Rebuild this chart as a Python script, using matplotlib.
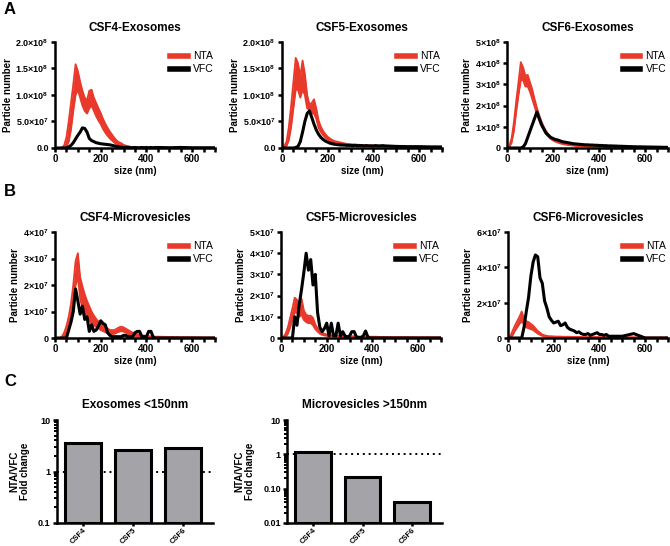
import matplotlib
matplotlib.use('Agg')
import matplotlib.pyplot as plt
from matplotlib.lines import Line2D
from matplotlib.ticker import MultipleLocator, LogLocator, NullFormatter

plt.rcParams['font.family'] = ['Liberation Sans', 'DejaVu Sans']
plt.rcParams['font.weight'] = 'bold'
plt.rcParams['mathtext.fontset'] = 'custom'
for key in ['rm', 'it', 'bf', 'sf']:
    plt.rcParams['mathtext.' + key] = 'Liberation Sans:bold'
plt.rcParams['axes.linewidth'] = 1.8

RED = '#e8392b'
GRAY = '#a4a4a8'

# particle size grid (nm)
size_nm = [0, 10, 20, 30, 40, 50, 60, 70, 80, 90,
           100, 110, 120, 130, 140, 150, 160, 170, 180, 190,
           200, 210, 220, 230, 240, 250, 260, 270, 280, 290,
           300, 310, 320, 330, 340, 350, 360, 370, 380, 390,
           400, 410, 420, 430, 440, 450, 500, 550, 600, 650, 700]

# all particle numbers in units of 1e7
# --- CSF4 exosomes ---
csf4_exo_nta_hi = [0, 0, 0, 0.1, 0.5, 2, 5, 8.5, 12, 15.8,
                   14.5, 12.5, 10.8, 9.5, 9, 10.8, 11, 9.5, 8.5, 7.5,
                   6.6, 5.5, 4.6, 3.8, 3.1, 2.5, 1.9, 1.4, 1.1, 0.9,
                   0.6, 0.45, 0.35, 0.25, 0.2, 0.15, 0.12, 0.1, 0.1, 0.08,
                   0.08, 0.07, 0.07, 0.06, 0.06, 0.06, 0.05, 0.04, 0.03, 0.03, 0.02]
csf4_exo_nta_lo = [0, 0, 0, 0, 0, 0.3, 1.2, 3.5, 7, 10,
                   11, 9.5, 8, 7, 6.5, 7.5, 8, 7, 6, 5.2,
                   4.5, 3.6, 2.9, 2.3, 1.8, 1.4, 1.0, 0.7, 0.5, 0.35,
                   0.25, 0.15, 0.1, 0.08, 0.06, 0.05, 0.04, 0.03, 0.03, 0.02,
                   0.02, 0.02, 0.02, 0.02, 0.02, 0.02, 0.01, 0.01, 0.01, 0.01, 0]
csf4_exo_vfc = [0, 0, 0, 0, 0, 0.05, 0.2, 0.5, 1.0, 1.7,
                2.4, 3.0, 3.8, 3.7, 3.0, 1.8, 1.4, 1.2, 1.0, 0.9,
                0.8, 0.75, 0.7, 0.65, 0.6, 0.5, 0.4, 0.3, 0.2, 0.15,
                0.1, 0.1, 0.1, 0.05, 0.05, 0.1, 0.05, 0.05, 0.1, 0.05,
                0.1, 0.05, 0.1, 0.05, 0.1, 0.1, 0.05, 0.1, 0.05, 0.05, 0.05]

# --- CSF5 exosomes ---
csf5_exo_nta_hi = [0.1, 0.4, 1.2, 4, 8, 12.5, 17, 16, 13.5, 16.5,
                   14, 10, 8.2, 8.5, 9.2, 7.5, 5.2, 4, 3.2, 2.6,
                   2.1, 1.8, 1.5, 1.3, 1.2, 1.1, 1.0, 0.9, 0.8, 0.75,
                   0.7, 0.68, 0.65, 0.62, 0.6, 0.58, 0.55, 0.52, 0.5, 0.48,
                   0.46, 0.45, 0.44, 0.42, 0.41, 0.4, 0.35, 0.3, 0.28, 0.25, 0.22]
csf5_exo_nta_lo = [0, 0.1, 0.4, 1.5, 4, 7.5, 11, 11, 9.5, 11,
                   10, 7.5, 7.2, 6.5, 6.5, 5.5, 3.8, 3, 2.4, 1.9,
                   1.6, 1.35, 1.15, 1.0, 0.9, 0.85, 0.78, 0.7, 0.62, 0.58,
                   0.54, 0.52, 0.5, 0.48, 0.46, 0.44, 0.42, 0.4, 0.38, 0.36,
                   0.35, 0.34, 0.33, 0.32, 0.31, 0.3, 0.26, 0.22, 0.2, 0.18, 0.16]
csf5_exo_vfc = [0, 0, 0, 0, 0, 0, 0.1, 0.3, 1.2, 3,
                5, 6.5, 7, 5.8, 4.5, 3.4, 2.6, 2, 1.6, 1.3,
                1.1, 0.9, 0.8, 0.7, 0.65, 0.6, 0.55, 0.55, 0.5, 0.5,
                0.5, 0.45, 0.5, 0.45, 0.45, 0.45, 0.4, 0.45, 0.4, 0.4,
                0.4, 0.45, 0.4, 0.4, 0.45, 0.4, 0.3, 0.25, 0.25, 0.2, 0.2]

# --- CSF6 exosomes ---
csf6_exo_nta_hi = [0, 1, 4.5, 12, 22, 31, 40.5, 38, 34, 34.5,
                   31, 27.5, 23, 19, 15.5, 12.5, 10, 8, 6.5, 5.3,
                   4.4, 3.7, 3.2, 2.8, 2.4, 2.1, 1.9, 1.7, 1.5, 1.4,
                   1.3, 1.2, 1.15, 1.1, 1.05, 1.0, 0.95, 0.9, 0.88, 0.85,
                   0.82, 0.8, 0.78, 0.75, 0.72, 0.7, 0.6, 0.5, 0.42, 0.36, 0.3]
csf6_exo_nta_lo = [0, 0.5, 2.5, 8, 17, 25, 32, 32, 29, 29,
                   26.5, 23, 19.5, 16, 13, 10.5, 8.3, 6.6, 5.3, 4.3,
                   3.6, 3.0, 2.6, 2.2, 1.9, 1.7, 1.5, 1.35, 1.2, 1.1,
                   1.0, 0.95, 0.9, 0.85, 0.8, 0.78, 0.75, 0.72, 0.7, 0.68,
                   0.65, 0.63, 0.62, 0.6, 0.58, 0.55, 0.48, 0.4, 0.34, 0.28, 0.24]
csf6_exo_vfc = [0, 0, 0, 0, 0, 0, 0, 0.5, 2, 5,
                8, 11, 14, 17, 14, 11, 9, 7, 6, 5,
                4.5, 4, 3.8, 3.4, 3.0, 2.8, 2.6, 2.4, 2.2, 2.0,
                1.9, 1.8, 1.7, 1.6, 1.5, 1.5, 1.4, 1.4, 1.3, 1.3,
                1.2, 1.2, 1.1, 1.1, 1.0, 1.0, 0.8, 0.6, 0.5, 0.4, 0.3]

# --- CSF4 microvesicles ---
csf4_mv_nta_hi = [0, 0, 0, 0.05, 0.2, 0.45, 0.8, 1.3, 2.0, 2.9,
                  3.2, 2.3, 1.95, 1.65, 1.4, 1.2, 1.0, 0.85, 0.72, 0.62,
                  0.55, 0.48, 0.42, 0.36, 0.3, 0.3, 0.3, 0.35, 0.4, 0.43,
                  0.4, 0.35, 0.3, 0.25, 0.2, 0.18, 0.15, 0.12, 0.1, 0.09,
                  0.08, 0.07, 0.06, 0.06, 0.05, 0.05, 0.04, 0.03, 0.03, 0.02, 0.02]
csf4_mv_nta_lo = [0, 0, 0, 0, 0.05, 0.15, 0.35, 0.7, 1.2, 2.0,
                  2.3, 1.5, 1.1, 0.9, 0.75, 0.65, 0.55, 0.48, 0.42, 0.36,
                  0.3, 0.26, 0.22, 0.18, 0.15, 0.15, 0.16, 0.2, 0.24, 0.26,
                  0.24, 0.2, 0.16, 0.12, 0.1, 0.08, 0.06, 0.05, 0.04, 0.04,
                  0.03, 0.03, 0.03, 0.02, 0.02, 0.02, 0.02, 0.01, 0.01, 0.01, 0.01]
csf4_mv_vfc = [0, 0, 0, 0, 0, 0, 0.3, 0.6, 1.0, 1.85,
               1.4, 0.9, 1.2, 0.7, 0.8, 0.25, 0.5, 0.25, 0.3, 0.45,
               0.65, 0.55, 0.5, 0.2, 0.1, 0.05, 0.05, 0.05, 0.05, 0.05,
               0.1, 0.1, 0.05, 0.05, 0.05, 0.2, 0.25, 0.25, 0.05, 0.05,
               0.05, 0.25, 0.25, 0.02, 0, 0, 0, 0, 0, 0, 0]

# --- CSF5 microvesicles ---
csf5_mv_nta_hi = [0, 0.05, 0.2, 0.5, 0.95, 1.4, 1.9, 1.8, 1.6, 1.85,
                  1.3, 1.1, 1.05, 1.05, 0.95, 0.65, 0.45, 0.32, 0.25, 0.2,
                  0.17, 0.15, 0.14, 0.13, 0.12, 0.11, 0.1, 0.1, 0.09, 0.09,
                  0.08, 0.08, 0.08, 0.07, 0.07, 0.07, 0.07, 0.07, 0.06, 0.06,
                  0.06, 0.06, 0.06, 0.05, 0.05, 0.05, 0.04, 0.04, 0.03, 0.03, 0.03]
csf5_mv_nta_lo = [0, 0, 0.05, 0.2, 0.5, 0.9, 1.2, 1.2, 1.0, 1.1,
                  0.85, 0.75, 0.7, 0.7, 0.6, 0.42, 0.3, 0.2, 0.15, 0.12,
                  0.1, 0.09, 0.08, 0.08, 0.07, 0.07, 0.06, 0.06, 0.05, 0.05,
                  0.05, 0.05, 0.04, 0.04, 0.04, 0.04, 0.04, 0.04, 0.03, 0.03,
                  0.03, 0.03, 0.03, 0.03, 0.03, 0.03, 0.02, 0.02, 0.02, 0.02, 0.02]
csf5_mv_vfc = [0, 0, 0, 0, 0, 0, 1.0, 0.6, 1.6, 2.3,
               3.1, 4.0, 3.2, 3.7, 2.5, 3.0, 1.2, 0.5, 0.3, 0.45,
               0.7, 0.1, 0.7, 0.1, 0.1, 0.7, 0.1, 0.3, 0.1, 0.05,
               0.1, 0.3, 0.3, 0.05, 0.02, 0.02, 0.1, 0.33, 0.05, 0,
               0, 0, 0, 0, 0, 0, 0, 0, 0, 0, 0]

# --- CSF6 microvesicles ---
csf6_mv_nta_hi = [0, 0.1, 0.4, 0.7, 0.95, 1.2, 1.5, 1.1, 0.95, 0.9,
                  0.8, 0.7, 0.55, 0.4, 0.3, 0.2, 0.15, 0.12, 0.1, 0.1,
                  0.09, 0.08, 0.08, 0.08, 0.07, 0.07, 0.07, 0.07, 0.06, 0.06,
                  0.06, 0.06, 0.06, 0.05, 0.05, 0.05, 0.05, 0.05, 0.05, 0.05,
                  0.05, 0.05, 0.05, 0.05, 0.05, 0.05, 0.04, 0.04, 0.03, 0.03, 0.03]
csf6_mv_nta_lo = [0, 0.02, 0.15, 0.4, 0.6, 0.8, 0.95, 0.75, 0.6, 0.55,
                  0.5, 0.45, 0.35, 0.25, 0.18, 0.12, 0.09, 0.07, 0.06, 0.05,
                  0.05, 0.05, 0.04, 0.04, 0.04, 0.04, 0.04, 0.04, 0.03, 0.03,
                  0.03, 0.03, 0.03, 0.03, 0.03, 0.03, 0.03, 0.03, 0.03, 0.03,
                  0.03, 0.03, 0.03, 0.03, 0.03, 0.03, 0.02, 0.02, 0.02, 0.02, 0.02]
csf6_mv_vfc = [0, 0, 0, 0, 0, 0, 0, 0.6, 1.5, 2.3,
               3.5, 4.3, 4.7, 4.6, 3.4, 3.1, 2.1, 1.7, 1.2, 1.0,
               0.85, 0.9, 0.95, 0.7, 0.75, 0.85, 0.6, 0.5, 0.45, 0.4,
               0.3, 0.35, 0.25, 0.2, 0.2, 0.25, 0.15, 0.2, 0.25, 0.3,
               0.2, 0.2, 0.15, 0.2, 0.1, 0.1, 0.1, 0.25, 0, 0, 0]

# y tick positions (1e7 units) and labels
exo45_yticks = [0, 5, 10, 15, 20]
exo45_ylabels = ['0.0', r'$5.0{\times}10^7$', r'$1.0{\times}10^8$', r'$1.5{\times}10^8$', r'$2.0{\times}10^8$']
exo6_yticks = [0, 10, 20, 30, 40, 50]
exo6_ylabels = ['0', r'$1{\times}10^8$', r'$2{\times}10^8$', r'$3{\times}10^8$', r'$4{\times}10^8$', r'$5{\times}10^8$']
mv4_yticks = [0, 1, 2, 3, 4]
mv4_ylabels = ['0', r'$1{\times}10^7$', r'$2{\times}10^7$', r'$3{\times}10^7$', r'$4{\times}10^7$']
mv5_yticks = [0, 1, 2, 3, 4, 5]
mv5_ylabels = ['0', r'$1{\times}10^7$', r'$2{\times}10^7$', r'$3{\times}10^7$', r'$4{\times}10^7$', r'$5{\times}10^7$']
mv6_yticks = [0, 2, 4, 6]
mv6_ylabels = ['0', r'$2{\times}10^7$', r'$4{\times}10^7$', r'$6{\times}10^7$']

# panel C: NTA/VFC fold change
samples = ['CSF4', 'CSF5', 'CSF6']
exo_fold = [3.6, 2.6, 2.8]
mv_fold = [1.2, 0.22, 0.041]

W, H = 670, 546
fig = plt.figure(figsize=(W / 100, H / 100), dpi=100)


def px_rect(left, top, width, height):
    return [left / W, 1 - (top + height) / H, width / W, height / H]


def style_axes(ax):
    for s in ['top', 'right']:
        ax.spines[s].set_visible(False)
    ax.tick_params(which='both', direction='out', width=1.8, length=3,
                   labelsize=7, pad=1.5)


def dist_panel(rect, title, hi, lo, vfc, yticks, ylabels):
    ax = fig.add_axes(rect)
    ax.fill_between(size_nm, lo, hi, color=RED, lw=0, zorder=2)
    ax.plot(size_nm, hi, color=RED, lw=1.3, zorder=2)
    ax.plot(size_nm, lo, color=RED, lw=1.3, zorder=2)
    ax.plot(size_nm, vfc, color='black', lw=2.2, zorder=3)
    ax.set_xlim(0, 700)
    ax.set_ylim(0, yticks[-1])
    ax.set_xticks([0, 200, 400, 600])
    ax.xaxis.set_minor_locator(MultipleLocator(50))
    ax.set_yticks(yticks)
    ax.set_yticklabels(ylabels)
    style_axes(ax)
    ax.tick_params(axis='y', labelsize=6.5)
    ax.set_title(title, fontsize=8.5, fontweight='bold', pad=8)
    ax.set_xlabel('size (nm)', fontsize=7, fontweight='bold', labelpad=1.5)
    ax.set_ylabel('Particle number', fontsize=7, fontweight='bold', labelpad=2)
    handles = [Line2D([], [], color=RED, lw=4), Line2D([], [], color='black', lw=4)]
    ax.legend(handles, ['NTA', 'VFC'], loc='upper left', bbox_to_anchor=(0.66, 1.0),
              frameon=False, prop={'size': 7.5, 'weight': 'normal'},
              handlelength=1.7, handletextpad=0.5, labelspacing=0.3)
    return ax


def ratio_panel(rect, title, vals, ymin, yticks, ylabels):
    ax = fig.add_axes(rect)
    ax.set_yscale('log')
    x = list(range(len(samples)))
    ax.axhline(1, color='black', ls=(0, (1, 2)), lw=1.4, zorder=1)
    ax.bar(x, [v - ymin for v in vals], bottom=ymin, width=0.72, color=GRAY,
           edgecolor='black', lw=2.2, zorder=2)
    ax.set_ylim(ymin, 10)
    ax.set_xlim(-0.52, 2.6)
    ax.set_yticks(yticks)
    ax.set_yticklabels(ylabels)
    ax.yaxis.set_minor_locator(LogLocator(base=10, subs=range(2, 10)))
    ax.yaxis.set_minor_formatter(NullFormatter())
    ax.set_xticks(x)
    ax.set_xticklabels(samples, rotation=45, ha='right', rotation_mode='anchor')
    style_axes(ax)
    ax.tick_params(axis='x', length=2, labelsize=5.5, pad=1)
    ax.tick_params(axis='y', labelsize=6.5)
    ax.tick_params(axis='y', which='minor', length=2, width=1.4)
    ax.set_title(title, fontsize=8.5, fontweight='bold', pad=9)
    ax.set_ylabel('NTA/VFC\nFold change', fontsize=7, fontweight='bold',
                  labelpad=6, linespacing=1.0)
    return ax


# row A
dist_panel(px_rect(55, 42, 160, 106), 'CSF4-Exosomes', csf4_exo_nta_hi, csf4_exo_nta_lo,
           csf4_exo_vfc, exo45_yticks, exo45_ylabels)
dist_panel(px_rect(282, 42, 160, 106), 'CSF5-Exosomes', csf5_exo_nta_hi, csf5_exo_nta_lo,
           csf5_exo_vfc, exo45_yticks, exo45_ylabels)
dist_panel(px_rect(507, 42, 161, 106), 'CSF6-Exosomes', csf6_exo_nta_hi, csf6_exo_nta_lo,
           csf6_exo_vfc, exo6_yticks, exo6_ylabels)

# row B
dist_panel(px_rect(55, 232, 160, 106), 'CSF4-Microvesicles', csf4_mv_nta_hi, csf4_mv_nta_lo,
           csf4_mv_vfc, mv4_yticks, mv4_ylabels)
dist_panel(px_rect(281, 232, 160, 106), 'CSF5-Microvesicles', csf5_mv_nta_hi, csf5_mv_nta_lo,
           csf5_mv_vfc, mv5_yticks, mv5_ylabels)
dist_panel(px_rect(508, 232, 160, 106), 'CSF6-Microvesicles', csf6_mv_nta_hi, csf6_mv_nta_lo,
           csf6_mv_vfc, mv6_yticks, mv6_ylabels)

# row C
ratio_panel(px_rect(57, 420, 156, 103), 'Exosomes <150nm', exo_fold, 0.1,
            [0.1, 1, 10], ['0.1', '1', '10'])
ratio_panel(px_rect(287, 420, 155, 103), 'Microvesicles >150nm', mv_fold, 0.01,
            [0.01, 0.1, 1, 10], ['0.01', '0.10', '1', '10'])

for letter, ypx in [('A', 2), ('B', 184), ('C', 374)]:
    fig.text(4 / W, 1 - ypx / H, letter, fontsize=12, fontweight='bold', va='top')

fig.savefig('out.png', dpi=100)
